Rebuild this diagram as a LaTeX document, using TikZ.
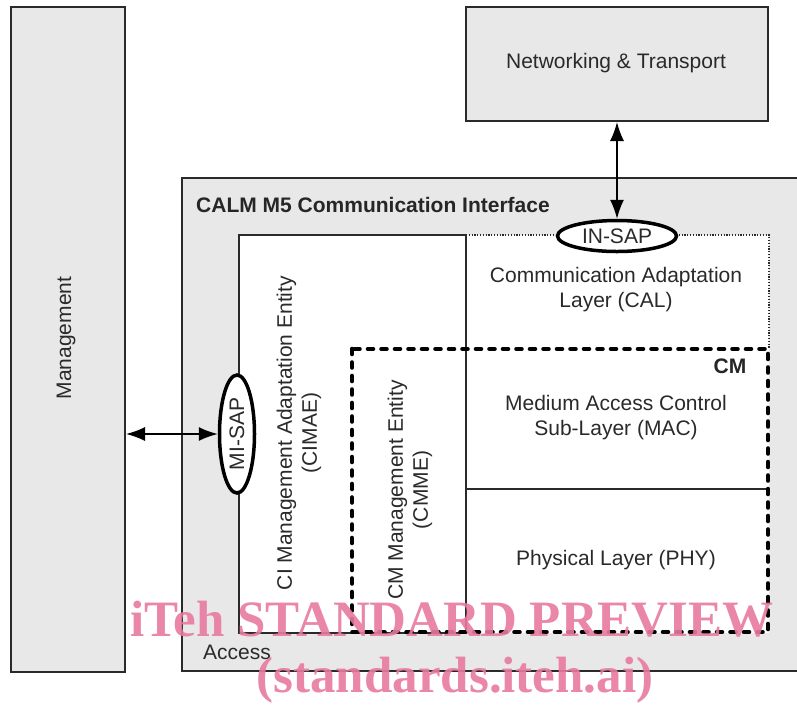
\documentclass[tikz,border=0pt]{standalone}
\usepackage{fontspec}
\setmainfont{Liberation Sans}
\newfontfamily\wmfont{Liberation Serif}
\usetikzlibrary{arrows.meta,shapes.geometric}
\definecolor{panel}{HTML}{E8E8E8}
\definecolor{ink}{HTML}{2A2A2A}
\definecolor{wmpink}{RGB}{232,122,160}
\begin{document}
\begin{tikzpicture}[x=1pt,y=-1pt,
  font=\fontsize{21}{25}\selectfont, text=ink,
  box/.style={draw=ink, line width=2pt, fill=panel, inner sep=0pt},
  thinline/.style={draw=ink, line width=1.3pt},
  dotline/.style={draw=ink, line width=1.2pt, dash pattern=on 1.2pt off 1.6pt},
  cmdash/.style={draw=black, line width=4.6pt, line cap=round, dash pattern=on 5pt off 8.5pt},
  sap/.style={ellipse, draw=black, line width=3.5pt, fill=white, inner sep=0pt},
  dbl/.style={{Latex[length=19pt,width=14pt]}-{Latex[length=19pt,width=14pt]}, line width=1.5pt, draw=black},
  lbl/.style={align=center, inner sep=0pt},
  boldlbl/.style={inner sep=0pt, font=\fontsize{21}{25}\selectfont\bfseries, text=black!85},
  wm/.style={inner sep=0pt, anchor=base, font=\wmfont\bfseries\fontsize{51}{51}\selectfont, text=wmpink, opacity=0.9},
]
\useasboundingbox (0,0) rectangle (797,705);
\fill[white] (0,0) rectangle (797,705);

% Management column
\node[box, minimum width=114pt, minimum height=665pt] (mgmt) at (68,339.5) {};
\node[lbl, rotate=90] (mgmtlbl) at (66,338) {Management};

% Networking & Transport
\node[box, minimum width=302pt, minimum height=114pt] (nt) at (617,64) {};
\node[lbl] (ntlbl) at (616,63) {Networking \& Transport};

% CALM M5 communication interface (runs off the right edge)
\node[box, minimum width=630pt, minimum height=493pt] (calm) at (497,424.5) {};
\node[boldlbl, anchor=west] (title) at (196,205) {CALM M5 Communication Interface};

% Inner white area
\node[fill=white, inner sep=0pt, minimum width=530pt, minimum height=398pt] (inner) at (504,434) {};
\draw[thinline] (466,235) -- (239,235) -- (239,633) -- (466,633);
\draw[dotline] (466,235) -- (769,235) -- (769,349);
\draw[thinline] (466,235) -- (466,633);
\draw[thinline] (466,489) -- (768,489);

% CM (communication module) boundary
\draw[cmdash] (352,349) rectangle (768,632);
\node[boldlbl] (cmlbl) at (730,366) {CM};

% Layer texts
\node[lbl] (cal) at (616,290) {Communication Adaptation\\Layer (CAL)};
\node[lbl] (mac) at (616,418) {Medium Access Control\\Sub-Layer (MAC)};
\node[lbl] (phy) at (616,560) {Physical Layer (PHY)};
\node[lbl, rotate=90] (cimae) at (299,433) {CI Management Adaptation Entity\\(CIMAE)};
\node[lbl, rotate=90] (cmme) at (410,490) {CM Management Entity\\(CMME)};
\node[lbl, anchor=west] (access) at (203,652) {Access};

% Service access points
\node[sap, minimum width=119pt, minimum height=31pt] (insap) at (617,236) {IN-SAP};
\node[sap, minimum width=35pt, minimum height=118pt] (misap) at (237,434) {};
\node[lbl, rotate=90] (misaplbl) at (misap.center) {MI-SAP};

% Connectors
\draw[dbl] (nt.south) -- (insap.north);
\draw[dbl] (mgmt.east |- misap.west) -- (misap.west);

% Watermark
\node[wm] (wm1) at (452,636) {iTeh STANDARD PREVIEW};
\node[wm] (wm2) at (455,692) {(standards.iteh.ai)};
\end{tikzpicture}
\end{document}
